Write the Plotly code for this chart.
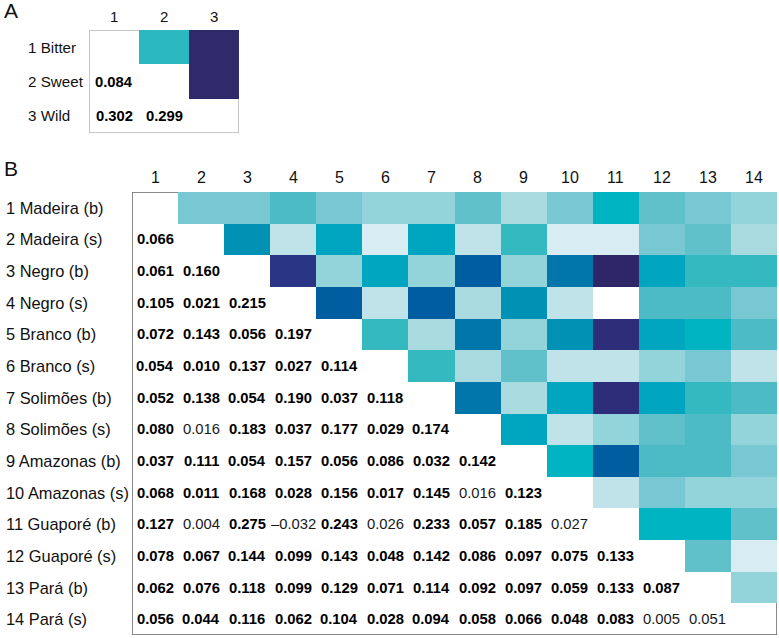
import plotly.graph_objects as go

# ---------------- data ----------------
labels_a = ["1 Bitter", "2 Sweet", "3 Wild"]
fst_a = [
    [],
    [0.084],
    [0.302, 0.299],
]

labels_b = ["1 Madeira (b)", "2 Madeira (s)", "3 Negro (b)", "4 Negro (s)",
            "5 Branco (b)", "6 Branco (s)", "7 Solimões (b)", "8 Solimões (s)",
            "9 Amazonas (b)", "10 Amazonas (s)", "11 Guaporé (b)", "12 Guaporé (s)",
            "13 Pará (b)", "14 Pará (s)"]
fst_b = [
    [],
    [0.066],
    [0.061, 0.160],
    [0.105, 0.021, 0.215],
    [0.072, 0.143, 0.056, 0.197],
    [0.054, 0.010, 0.137, 0.027, 0.114],
    [0.052, 0.138, 0.054, 0.190, 0.037, 0.118],
    [0.080, 0.016, 0.183, 0.037, 0.177, 0.029, 0.174],
    [0.037, 0.111, 0.054, 0.157, 0.056, 0.086, 0.032, 0.142],
    [0.068, 0.011, 0.168, 0.028, 0.156, 0.017, 0.145, 0.016, 0.123],
    [0.127, 0.004, 0.275, -0.032, 0.243, 0.026, 0.233, 0.057, 0.185, 0.027],
    [0.078, 0.067, 0.144, 0.099, 0.143, 0.048, 0.142, 0.086, 0.097, 0.075, 0.133],
    [0.062, 0.076, 0.118, 0.099, 0.129, 0.071, 0.114, 0.092, 0.097, 0.059, 0.133, 0.087],
    [0.056, 0.044, 0.116, 0.062, 0.104, 0.028, 0.094, 0.058, 0.066, 0.048, 0.083, 0.005, 0.051],
]
# (row, col) pairs, 1-based, that are NOT significant (plain text)
nonsig_b = [(8, 2), (10, 8), (11, 2), (11, 4), (11, 6), (11, 10), (14, 12), (14, 13)]
nonsig_a = []

# ---------------- styles ----------------
FONT = "Liberation Sans, Arial, Helvetica, sans-serif"
W, H = 779, 638

bins_b = [
    (-0.04, 0.0, "#ffffff"),
    (0.0, 0.013, "#d8edf3"),
    (0.013, 0.0285, "#c0e3ea"),
    (0.0285, 0.046, "#a8dae0"),
    (0.046, 0.0598, "#93d3da"),
    (0.0598, 0.0755, "#77c8d2"),
    (0.0755, 0.090, "#60c1cb"),
    (0.090, 0.108, "#4dbbc5"),
    (0.108, 0.122, "#35b9c0"),
    (0.122, 0.135, "#00b4c2"),
    (0.135, 0.150, "#00a5bf"),
    (0.150, 0.164, "#0091b5"),
    (0.164, 0.180, "#0076aa"),
    (0.180, 0.205, "#005da0"),
    (0.205, 0.225, "#2a3585"),
    (0.225, 0.260, "#2e2d7a"),
    (0.260, 0.310, "#2e2666"),
]
ZMIN_B, ZMAX_B = bins_b[0][0], bins_b[-1][1]
cs_b = []
for lo, hi, c in bins_b:
    cs_b.append([(lo - ZMIN_B) / (ZMAX_B - ZMIN_B), c])
    cs_b.append([(hi - ZMIN_B) / (ZMAX_B - ZMIN_B), c])
cs_b[0][0] = 0.0
cs_b[-1][0] = 1.0

ZMIN_A, ZMAX_A = 0.0, 0.31
cs_a = [[0.0, "#d8edf3"], [0.27, "#2bb8c0"], [0.6, "#005da0"],
        [0.9, "#30296a"], [1.0, "#30296a"]]


def upper_matrix(fst):
    n = len(fst)
    z = [[None] * n for _ in range(n)]
    for i in range(n):
        for j in range(i + 1, n):
            z[i][j] = fst[j][i]
    return z


def fmt(v):
    s = f"{v:.3f}"
    return s.replace("-", "\u2013")


fig = go.Figure()

panels = [
    dict(labels=labels_a, fst=fst_a, nonsig=nonsig_a, cs=cs_a, zmin=ZMIN_A, zmax=ZMAX_A,
         xd=(89, 239), yd=(30, 133), ax="", lab_x=26, lab_size=15.2, col_y=17, col_size=15,
         border="#b5b5b5", letter="A", letter_y=10.5),
    dict(labels=labels_b, fst=fst_b, nonsig=nonsig_b, cs=cs_b, zmin=ZMIN_B, zmax=ZMAX_B,
         xd=(132, 777), yd=(192, 635), ax="2", lab_x=4, lab_size=16.4, col_y=177, col_size=16,
         border="#666666", letter="B", letter_y=168),
]

annotations = []
shapes = []
layout_axes = {}
for p in panels:
    n = len(p["labels"])
    idx = list(range(1, n + 1))
    xr = "x" + p["ax"]
    yr = "y" + p["ax"]
    fig.add_trace(go.Heatmap(
        z=upper_matrix(p["fst"]), x=idx, y=idx, colorscale=p["cs"],
        zmin=p["zmin"], zmax=p["zmax"], showscale=False, hoverinfo="skip",
        xaxis=xr, yaxis=yr))
    xd = [p["xd"][0] / W, p["xd"][1] / W]
    yd = [1 - p["yd"][1] / H, 1 - p["yd"][0] / H]
    layout_axes["xaxis" + p["ax"]] = dict(domain=xd, range=[0.5, n + 0.5], visible=False,
                                          anchor=yr, fixedrange=True)
    layout_axes["yaxis" + p["ax"]] = dict(domain=yd, range=[n + 0.5, 0.5], visible=False,
                                          anchor=xr, fixedrange=True)
    # values in lower triangle
    for i in range(n):
        for j, v in enumerate(p["fst"][i]):
            sig = (i + 1, j + 1) not in p["nonsig"]
            txt = f"<b>{fmt(v)}</b>" if sig else fmt(v)
            annotations.append(dict(x=j + 1, y=i + 1, xref=xr, yref=yr, text=txt,
                                    showarrow=False, xanchor="center", yanchor="middle",
                                    font=dict(family=FONT, size=14.8,
                                              color="#000000" if sig else "#1a1a1a")))
    # row labels
    for i, lab in enumerate(p["labels"]):
        annotations.append(dict(x=p["lab_x"] / W, y=i + 1, xref="paper", yref=yr, text=lab,
                                showarrow=False, xanchor="left", yanchor="middle",
                                font=dict(family=FONT, size=p["lab_size"], color="#111111")))
    # column numbers
    for k in idx:
        annotations.append(dict(x=k, y=1 - p["col_y"] / H, xref=xr, yref="paper", text=str(k),
                                showarrow=False, xanchor="center", yanchor="middle",
                                font=dict(family=FONT, size=p["col_size"], color="#111111")))
    # panel letter
    annotations.append(dict(x=2 / W, y=1 - p["letter_y"] / H, xref="paper", yref="paper",
                            text=p["letter"], showarrow=False, xanchor="left", yanchor="middle",
                            font=dict(family=FONT, size=21, color="#111111")))
    # border
    shapes.append(dict(type="rect", xref=xr, yref=yr, x0=0.5, x1=n + 0.5, y0=0.5, y1=n + 0.5,
                       line=dict(color=p["border"], width=1.5), layer="below"))

fig.update_layout(
    width=W, height=H, margin=dict(l=0, r=0, t=0, b=0),
    paper_bgcolor="white", plot_bgcolor="white",
    annotations=annotations, shapes=shapes, showlegend=False,
    **layout_axes,
)

fig.write_html("out.html", config={"displayModeBar": False},
               post_script="document.body.style.margin='0';document.body.style.overflow='hidden';")
